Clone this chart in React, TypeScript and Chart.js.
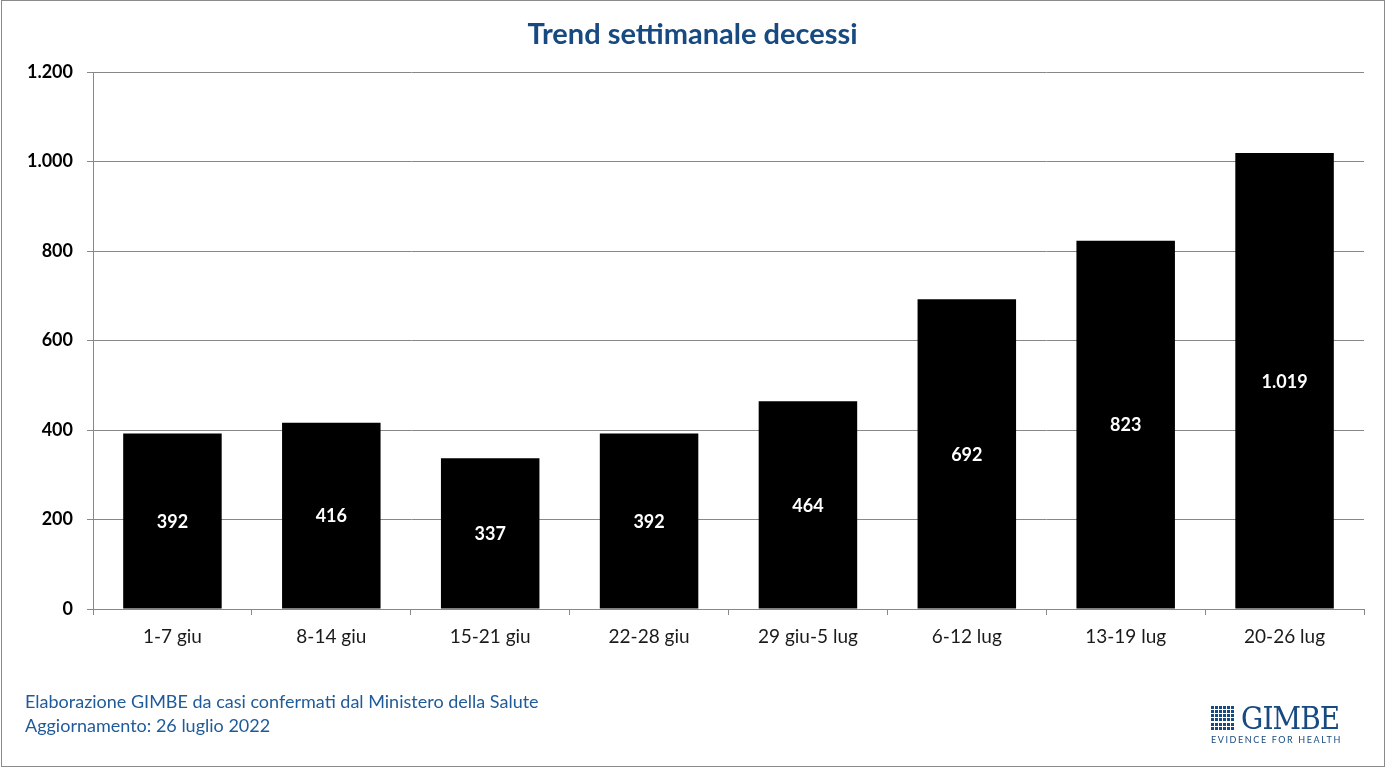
import React, { useEffect, useRef } from "react";
import { Chart, registerables } from "chart.js";

Chart.register(...registerables);

const categories = ["1-7 giu", "8-14 giu", "15-21 giu", "22-28 giu", "29 giu-5 lug", "6-12 lug", "13-19 lug", "20-26 lug"];
const deaths = [392, 416, 337, 392, 464, 692, 823, 1019];
const yTicks = [0, 200, 400, 600, 800, 1000, 1200];
const title = "Trend settimanale decessi";
const footerLines = ["Elaborazione GIMBE da casi confermati dal Ministero della Salute", "Aggiornamento: 26 luglio 2022"];

const FONT = "Lato, 'Open Sans', sans-serif";
const BLUE = "#174a80";

function fmt(v: number): string {
  return String(v).replace(/\B(?=(\d{3})+(?!\d))/g, ".");
}

const barLabels = {
  id: "barLabels",
  afterDatasetsDraw(chart: any) {
    const ctx = chart.ctx;
    const meta = chart.getDatasetMeta(0);
    ctx.save();
    ctx.fillStyle = "#ffffff";
    ctx.font = `bold 18px ${FONT}`;
    ctx.textAlign = "center";
    ctx.textBaseline = "middle";
    meta.data.forEach((bar: any, i: number) => {
      const { x, y, base } = bar.getProps(["x", "y", "base"], true);
      ctx.fillText(fmt(deaths[i]), x, (y + base) / 2 + 1);
    });
    ctx.restore();
  },
};

export default function App() {
  const ref = useRef<HTMLCanvasElement | null>(null);
  useEffect(() => {
    if (!ref.current) return;
    const chart = new Chart(ref.current, {
      type: "bar",
      data: {
        labels: categories,
        datasets: [
          {
            data: deaths,
            backgroundColor: "#000000",
            borderColor: "#000000",
            barPercentage: 0.62,
            categoryPercentage: 1,
          },
        ],
      },
      plugins: [barLabels],
      options: {
        animation: false,
        responsive: false,
        devicePixelRatio: 1,
        layout: { padding: { left: 0, top: 72, right: 21, bottom: 0 } },
        plugins: {
          legend: { display: false },
          tooltip: { enabled: false },
          title: { display: false },
        },
        scales: {
          x: {
            afterFit: (s: any) => {
              s.height = 158;
            },
            grid: {
              display: true,
              drawOnChartArea: false,
              drawTicks: true,
              tickLength: 6,
              color: "#888888",
              offset: true,
            },
            border: { display: true, color: "#888888" },
            ticks: {
              color: "#1a1a1a",
              font: { family: FONT, size: 19 },
              padding: 10,
              maxRotation: 0,
              autoSkip: false,
            },
          },
          y: {
            min: 0,
            max: 1200,
            afterFit: (s: any) => {
              s.width = 93;
            },
            afterBuildTicks: (s: any) => {
              s.ticks = yTicks.map((v) => ({ value: v }));
            },
            grid: {
              color: "#888888",
              tickLength: 6,
              lineWidth: 1,
            },
            border: { display: true, color: "#888888" },
            ticks: {
              color: "#000000",
              font: { family: FONT, size: 18, weight: "bold" },
              padding: 14,
              callback: (v: any) => fmt(Number(v)),
            },
          },
        },
      },
    });
    return () => chart.destroy();
  }, []);

  const squares = [];
  for (let i = 0; i < 36; i++) {
    squares.push(<div key={i} style={{ width: 3, height: 3, background: BLUE }} />);
  }

  return (
    <div
      style={{
        position: "fixed",
        left: 0,
        top: 0,
        width: 1385,
        height: 767,
        background: "#ffffff",
        overflow: "hidden",
        fontFamily: FONT,
      }}
    >
      <canvas ref={ref} width={1385} height={767} style={{ position: "absolute", left: 0, top: 0, width: 1385, height: 767 }} />
      <div
        style={{
          position: "absolute",
          left: 1,
          top: 0,
          width: 1382,
          height: 765,
          border: "1px solid #8a8a8a",
          pointerEvents: "none",
        }}
      />
      <div
        style={{
          position: "absolute",
          left: 0,
          width: 1385,
          top: 14,
          textAlign: "center",
          fontWeight: "bold",
          fontSize: 29,
          color: BLUE,
          lineHeight: "38px",
        }}
      >
        {title}
      </div>
      <div style={{ position: "absolute", left: 25, top: 689, fontSize: 18, lineHeight: "24px", color: "#1f5b9a" }}>
        {footerLines.map((l, i) => (
          <div key={i}>{l}</div>
        ))}
      </div>
      <div style={{ position: "absolute", left: 1211, top: 705, width: 130 }}>
        <div style={{ display: "flex", alignItems: "center" }}>
          <div
            style={{
              display: "grid",
              gridTemplateColumns: "repeat(6, 3px)",
              gap: 1,
              width: 24,
              height: 24,
            }}
          >
            {squares}
          </div>
          <div
            style={{
              marginLeft: 7,
              fontFamily: "'DejaVu Serif', 'Liberation Serif', serif",
              fontSize: 31,
              lineHeight: "26px",
              color: BLUE,
              letterSpacing: -1,
              transform: "scaleX(0.9)",
              transformOrigin: "left center",
            }}
          >
            GIMBE
          </div>
        </div>
        <div
          style={{
            marginTop: 4,
            fontSize: 9,
            lineHeight: "10px",
            letterSpacing: 1.6,
            color: BLUE,
            whiteSpace: "nowrap",
          }}
        >
          EVIDENCE FOR HEALTH
        </div>
      </div>
    </div>
  );
}
